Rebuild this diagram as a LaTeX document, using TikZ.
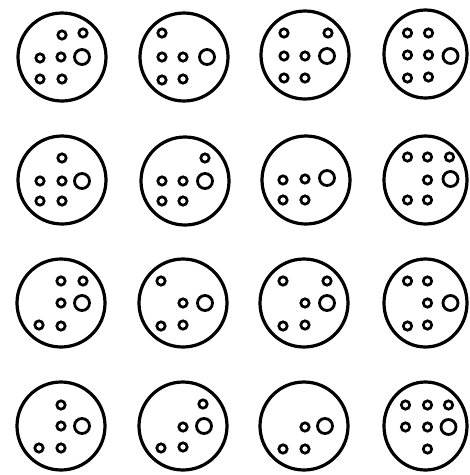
\documentclass[tikz,border=0pt]{standalone}
\tikzset{
  plate/.style={line width=3.2pt},
  dotring/.style={line width=2.7pt},
  bigring/.style={line width=2.8pt}
}
\newcommand\dishplate[6]{%
  \begin{scope}[shift={(#1,#2)}]
    \draw[plate] (0,0) circle[x radius=#3, y radius=44pt];
    \foreach \a/\b in {#4} \draw[dotring] (\a,\b) circle[radius=4.2pt];
    \draw[bigring] (#5,#6) circle[radius=7.5pt];
  \end{scope}}
\begin{document}
\begin{tikzpicture}[x=1pt,y=-1pt]
\fill[white] (0,0) rectangle (470,475);
\useasboundingbox (0,0) rectangle (470,475);
% row 1
\dishplate{62}{57}{44pt}{0/-22,21/-24,-22/1,-1/0,-22/22,0/22}{20}{0}
\dishplate{184}{57}{44pt}{-22/-24,-22/0,-1/0,-22/23,-1/22}{23}{0}
\dishplate{305}{55}{44pt}{-21/-22,23/-22,-21/1,0/1,-21/23,0/23}{22}{1}
\dishplate{425.5}{54}{41.5pt}{-18/-21,3/-21,-18/1,3/1,-18/24,3/23}{25}{2}
% row 2
\dishplate{62}{180}{44pt}{0/-22,-22/1,0/1,-22/21,0/21}{20}{1}
\dishplate{185}{181}{44pt}{20/-23,-23/0,-2/0,-23/20,-2/20}{20}{0}
\dishplate{306}{180}{44pt}{-23/0,-1/-1,-23/20,-1/20}{21}{-2}
\dishplate{425.5}{180}{41.5pt}{-18/-23,2/-23,24/-23,2/0,-18/20,2/20}{25}{-1}
% row 3
\dishplate{61}{303}{44pt}{0/-22,22/-22,0/0,-22/22,0/23}{21}{0}
\dishplate{183}{303}{44pt}{-22/-22,0/0,-22/23,0/22}{22}{0}
\dishplate{304}{303}{44pt}{-21/-22,23/-22,1/0,-21/23,1/22}{23}{0}
\dishplate{425.5}{303}{41.5pt}{-18/-22,2/-22,2/0,-18/23,2/22}{25}{0}
% row 4
\dishplate{61}{426}{44pt}{0/-21,0/0,-22/22,0/22}{21}{0}
\dishplate{183}{426}{44pt}{20/-22,0/1,-22/22,0/21}{21}{0}
\dishplate{304}{426}{44pt}{1/1,-21/23,1/23}{21}{0}
\dishplate{425.5}{426}{41.5pt}{-20/-21,2/-21,23/-21,-20/1,2/1,2/23}{23}{1}
\end{tikzpicture}
\end{document}
